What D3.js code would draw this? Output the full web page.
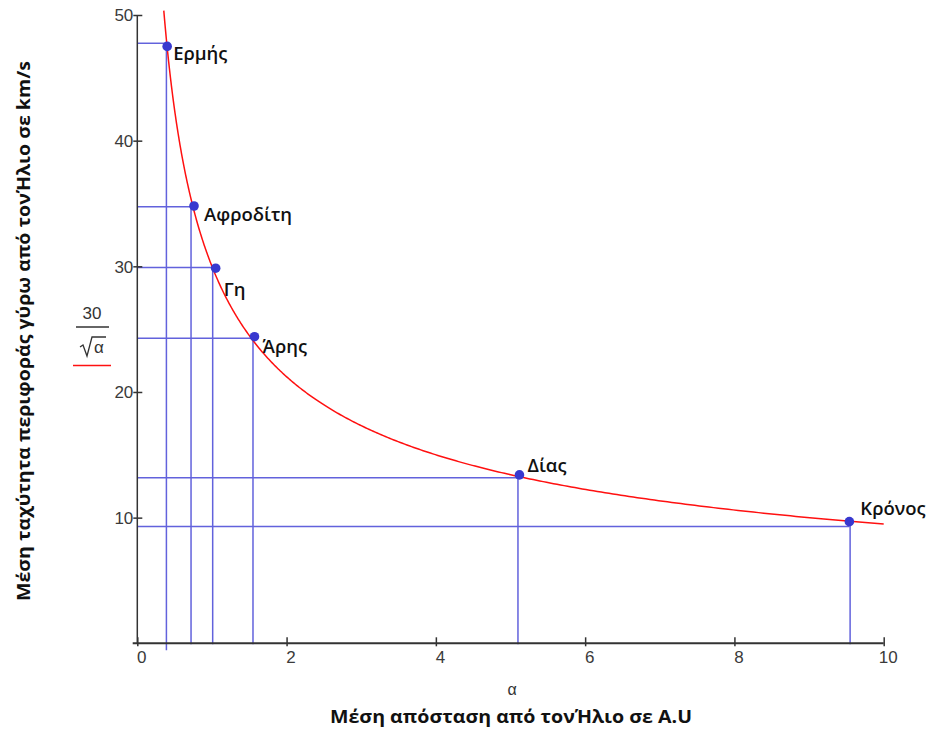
<!DOCTYPE html>
<html>
<head>
<meta charset="utf-8">
<script src="https://cdn.jsdelivr.net/npm/d3@7"></script>
<style>
  html, body { margin: 0; padding: 0; background: #fff; }
  svg { display: block; }
</style>
</head>
<body>
<svg id="chart" width="932" height="730"></svg>
<script>
// ---- data ----
const planets = ["Ερμής", "Αφροδίτη", "Γη", "Άρης", "Δίας", "Κρόνος"];
const guideA = [0.39, 0.72, 1.01, 1.55, 5.10, 9.55];     // AU (guide lines)
const guideV = [47.75, 34.75, 29.9, 24.27, 13.18, 9.3];  // km/s (guide lines)
const dotA = [0.40, 0.76, 1.05, 1.57, 5.12, 9.54];       // AU (markers)
const dotV = [47.5, 34.8, 29.85, 24.4, 13.4, 9.68];      // km/s (markers)
const xTicks = [0, 2, 4, 6, 8, 10];
const yTicks = [10, 20, 30, 40, 50];
const curveK = 30;              // v = 30 / sqrt(α)
const curveDomain = [0.355, 10];

// ---- layout ----
const svg = d3.select("#chart");
const x = d3.scaleLinear().domain([0, 10]).range([137.3, 883.7]);
const y = d3.scaleLinear().domain([0, 50]).range([643.3, 15]);

const axisColor = "#333";
const guideColor = "#6262dc";
const dotColor = "#3838cf";
const tickFont = "'Liberation Sans Narrow', 'Liberation Sans', sans-serif";
const labelFont = "'Open Sans', 'Noto Sans', sans-serif";

const pts = planets.map((p, i) => ({name: p, ga: guideA[i], gv: guideV[i], da: dotA[i], dv: dotV[i]}));

// guide lines
svg.append("g").selectAll("line").data(pts).join("line")
  .attr("x1", x(0)).attr("x2", d => x(d.da))
  .attr("y1", d => y(d.gv)).attr("y2", d => y(d.gv))
  .attr("stroke", guideColor).attr("stroke-width", 1.5);

svg.append("g").selectAll("line").data(pts).join("line")
  .attr("x1", d => x(d.ga)).attr("x2", d => x(d.ga))
  .attr("y1", d => y(d.dv)).attr("y2", (d, i) => i === 0 ? y(0) + 7 : y(0) + 1)
  .attr("stroke", guideColor).attr("stroke-width", 1.5);

// axes
const xAxis = d3.axisBottom(x).tickValues(xTicks).tickSize(0).tickFormat(d3.format("d"));
const gx = svg.append("g").attr("transform", `translate(0,${y(0)})`).call(xAxis);
gx.select(".domain").remove();
gx.selectAll(".tick text").attr("dx", 4).attr("y", 8).attr("dy", "0.71em")
  .style("font-family", tickFont).style("font-size", "17px").attr("fill", "#3a3a3a");
gx.selectAll(".tick").append("line").attr("y1", -6).attr("y2", 3)
  .attr("stroke", axisColor).attr("stroke-width", 1.5);

const yAxis = d3.axisLeft(y).tickValues(yTicks).tickSize(0).tickFormat(d3.format("d"));
const gy = svg.append("g").attr("transform", `translate(${x(0)},0)`).call(yAxis);
gy.select(".domain").remove();
gy.selectAll(".tick text").attr("x", -4).attr("dy", "0.34em")
  .style("font-family", tickFont).style("font-size", "17px").attr("fill", "#3a3a3a");
gy.selectAll(".tick").append("line").attr("x1", -4).attr("x2", 5)
  .attr("stroke", axisColor).attr("stroke-width", 1.5);

svg.append("line").attr("x1", x(0) - 4.6).attr("x2", x(10)).attr("y1", y(0)).attr("y2", y(0))
  .attr("stroke", axisColor).attr("stroke-width", 2);
svg.append("line").attr("x1", x(0)).attr("x2", x(0)).attr("y1", y(50)).attr("y2", y(0))
  .attr("stroke", axisColor).attr("stroke-width", 1.5);

// red curve
const curvePts = d3.range(0, 401).map(i => {
  const a = curveDomain[0] * Math.pow(curveDomain[1] / curveDomain[0], i / 400);
  return [a, curveK / Math.sqrt(a)];
});
svg.append("path").datum(curvePts)
  .attr("d", d3.line().x(d => x(d[0])).y(d => y(d[1])))
  .attr("fill", "none").attr("stroke", "#ff1010").attr("stroke-width", 1.5);

// dots
svg.append("g").selectAll("circle").data(pts).join("circle")
  .attr("cx", d => x(d.da)).attr("cy", d => y(d.dv)).attr("r", 4.8)
  .attr("fill", dotColor);

// planet labels
const labelOff = [[6, 7], [10, 8], [8, 21], [8, 10], [8, -9], [11, -13]];
svg.append("g").selectAll("text").data(pts).join("text")
  .attr("x", (d, i) => x(d.da) + labelOff[i][0])
  .attr("y", (d, i) => y(d.dv) + labelOff[i][1] + 6.5)
  .text(d => d.name)
  .style("font-family", labelFont).style("font-weight", 600).style("font-size", "18.5px")
  .attr("fill", "#111");

// legend (30 / sqrt α)
const lg = svg.append("g");
lg.append("text").attr("x", 92).attr("y", 319).attr("text-anchor", "middle")
  .text("30").style("font-family", "'Liberation Sans Narrow', 'Liberation Sans', sans-serif").style("font-size", "17px").attr("fill", "#333");
lg.append("line").attr("x1", 76).attr("x2", 109).attr("y1", 327).attr("y2", 327)
  .attr("stroke", "#333").attr("stroke-width", 1.3);
lg.append("path").attr("d", "M80,347 L83,345 L87,356 L92,337 L106,337")
  .attr("fill", "none").attr("stroke", "#333").attr("stroke-width", 1.3);
lg.append("text").attr("x", 99).attr("y", 353).attr("text-anchor", "middle")
  .text("α").style("font-family", "'Liberation Sans', sans-serif").style("font-size", "17px").attr("fill", "#333");
lg.append("line").attr("x1", 73).attr("x2", 111).attr("y1", 365.5).attr("y2", 365.5)
  .attr("stroke", "#ff1010").attr("stroke-width", 1.5);

// axis titles
svg.append("text").attr("x", 512).attr("y", 695).attr("text-anchor", "middle")
  .text("α").style("font-family", "'Liberation Sans', sans-serif").style("font-size", "16px").attr("fill", "#333");
svg.append("text").attr("x", 511).attr("y", 723).attr("text-anchor", "middle")
  .attr("textLength", 362).attr("lengthAdjust", "spacingAndGlyphs")
  .text("Μέση απόσταση από τονΉλιο σε A.U")
  .style("font-family", labelFont).style("font-weight", 700).style("font-size", "18px").attr("fill", "#111");
svg.append("text").attr("transform", "translate(30,331) rotate(-90)").attr("text-anchor", "middle")
  .attr("textLength", 540).attr("lengthAdjust", "spacingAndGlyphs")
  .text("Μέση ταχύτητα περιφοράς γύρω από τονΉλιο σε km/s")
  .style("font-family", labelFont).style("font-weight", 700).style("font-size", "18px").attr("fill", "#111");
</script>
</body>
</html>
